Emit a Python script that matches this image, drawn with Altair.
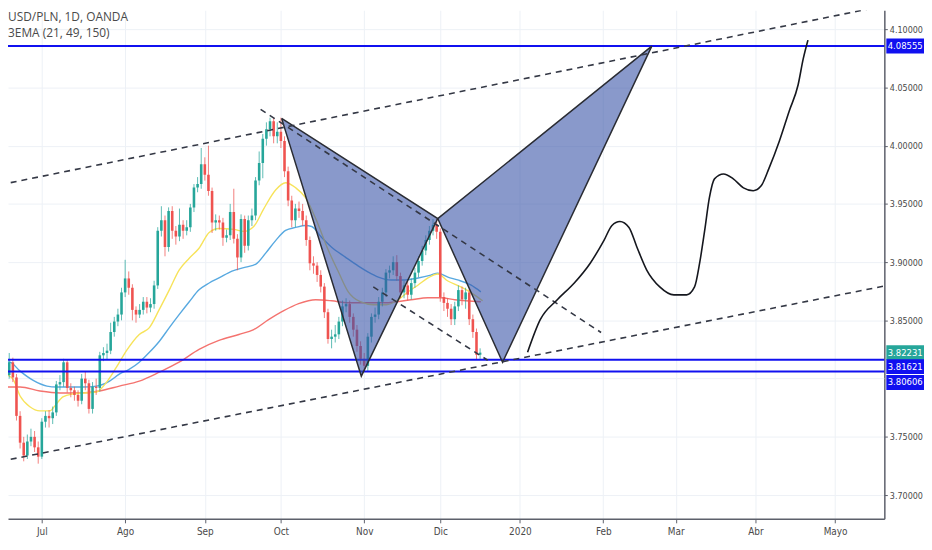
import altair as alt
import pandas as pd

FONT = "Liberation Sans Narrow, DejaVu Sans Condensed, Roboto, sans-serif"
TITLE_FONT = "Open Sans, Roboto, sans-serif"
GREEN = "#26a69a"
RED = "#ef5350"
LEVEL_BLUE = "#1010f0"

# ---------------- data ----------------
TITLE_LINES = ["USD/PLN, 1D, OANDA", "3EMA (21, 49, 150)"]

# bar index 0 = 1 Jul 2019 (trading-day index)
START_INDEX = -11
FIRST_OPEN = 3.776
CLOSE = [
    3.800, 3.803, 3.814, 3.801, 3.768, 3.745, 3.734, 3.746, 3.750, 3.741, 3.733,
    3.763, 3.768, 3.766, 3.771, 3.795, 3.797, 3.814, 3.792, 3.790, 3.786, 3.781,
    3.800, 3.796, 3.774, 3.793, 3.792, 3.820, 3.822, 3.824, 3.840, 3.849,
    3.855, 3.874, 3.886, 3.878, 3.859, 3.855, 3.859, 3.866, 3.861, 3.864,
    3.880, 3.927, 3.936, 3.913, 3.944, 3.927, 3.922, 3.932, 3.927, 3.930,
    3.947, 3.964, 3.967, 3.984, 3.975, 3.961, 3.934, 3.936, 3.934, 3.921,
    3.923, 3.943, 3.920, 3.904, 3.937, 3.914, 3.936, 3.940, 3.970, 3.985,
    4.006, 4.014, 4.021, 4.008, 4.012, 4.004, 3.978, 3.953, 3.936, 3.946,
    3.944, 3.936, 3.919, 3.899, 3.897, 3.889, 3.879, 3.857, 3.834, 3.836,
    3.838, 3.849, 3.862, 3.864, 3.853, 3.842, 3.828, 3.817, 3.811, 3.836,
    3.853, 3.855, 3.866, 3.874, 3.891, 3.893, 3.900, 3.888, 3.874, 3.880,
    3.872, 3.882, 3.891, 3.901, 3.910, 3.919, 3.927, 3.932, 3.926, 3.870,
    3.865, 3.860, 3.851, 3.862, 3.876, 3.868, 3.874, 3.851, 3.840, 3.8205, 3.82231,
]
HIGH = [
    3.804, 3.808, 3.822, 3.818, 3.804, 3.772, 3.750, 3.752, 3.757, 3.755, 3.746,
    3.766, 3.772, 3.773, 3.776, 3.798, 3.803, 3.817, 3.816, 3.796, 3.793, 3.790,
    3.804, 3.806, 3.799, 3.797, 3.800, 3.823, 3.827, 3.830, 3.848, 3.853,
    3.860, 3.878, 3.902, 3.892, 3.881, 3.862, 3.864, 3.870, 3.870, 3.869,
    3.884, 3.930, 3.948, 3.940, 3.947, 3.948, 3.931, 3.946, 3.936, 3.936,
    3.950, 3.967, 3.973, 3.998, 3.990, 4.000, 3.964, 3.941, 3.940, 3.938,
    3.928, 3.950, 3.963, 3.924, 3.941, 3.940, 3.940, 3.946, 3.973, 3.995,
    4.010, 4.020, 4.024, 4.024, 4.020, 4.024, 4.008, 3.982, 3.957, 3.950,
    3.952, 3.950, 3.940, 3.922, 3.905, 3.900, 3.893, 3.882, 3.860, 3.842,
    3.846, 3.853, 3.867, 3.869, 3.867, 3.856, 3.846, 3.832, 3.822, 3.839,
    3.856, 3.861, 3.870, 3.878, 3.894, 3.897, 3.905, 3.906, 3.891, 3.884,
    3.885, 3.886, 3.895, 3.905, 3.914, 3.923, 3.931, 3.937, 3.937, 3.929,
    3.874, 3.869, 3.864, 3.866, 3.880, 3.879, 3.878, 3.877, 3.855, 3.843, 3.826,
]
LOW = [
    3.770, 3.795, 3.800, 3.797, 3.764, 3.740, 3.729, 3.731, 3.742, 3.737, 3.727,
    3.731, 3.758, 3.758, 3.761, 3.768, 3.790, 3.793, 3.788, 3.784, 3.781, 3.776,
    3.778, 3.790, 3.770, 3.770, 3.786, 3.789, 3.815, 3.816, 3.821, 3.836,
    3.845, 3.850, 3.870, 3.872, 3.850, 3.848, 3.852, 3.855, 3.856, 3.857,
    3.860, 3.877, 3.922, 3.905, 3.909, 3.920, 3.915, 3.918, 3.920, 3.923,
    3.926, 3.943, 3.960, 3.963, 3.970, 3.957, 3.925, 3.927, 3.928, 3.914,
    3.917, 3.919, 3.916, 3.893, 3.900, 3.908, 3.910, 3.931, 3.936, 3.966,
    3.972, 4.000, 4.008, 4.002, 4.002, 3.998, 3.973, 3.948, 3.930, 3.930,
    3.938, 3.931, 3.914, 3.893, 3.890, 3.883, 3.874, 3.852, 3.830, 3.826,
    3.831, 3.834, 3.845, 3.857, 3.848, 3.836, 3.823, 3.812, 3.806, 3.806,
    3.831, 3.848, 3.851, 3.862, 3.870, 3.886, 3.889, 3.884, 3.869, 3.869,
    3.867, 3.868, 3.878, 3.887, 3.897, 3.906, 3.915, 3.923, 3.920, 3.866,
    3.858, 3.853, 3.846, 3.846, 3.858, 3.863, 3.860, 3.846, 3.835, 3.816, 3.817,
]

EMA21_I = [-11.5, -8.0, -6.0, -3.3, -0.5, 2.2, 3.6, 5.8, 8.5, 15.1, 17.9, 20.6, 23.6, 26.9, 29.7,
           32.4, 35.2, 37.9, 40.7, 43.4, 46.2, 48.9, 53.0, 55.8, 58.5, 61.3, 64.6, 67.3, 70.1, 72.8,
           75.6, 79.1, 81.9, 84.6, 87.9, 91.5, 95.1, 98.4, 101.1, 103.9, 106.6, 109.3, 112.1, 115.7,
           119.0, 121.7]
EMA21_P = [3.8055, 3.7996, 3.7851, 3.7758, 3.7723, 3.7723, 3.7766, 3.7843, 3.7868, 3.7885, 3.7970,
           3.8098, 3.8251, 3.8379, 3.8438, 3.8592, 3.8762, 3.8932, 3.9034, 3.9119, 3.9255, 3.9289,
           3.9281, 3.9264, 3.9306, 3.9460, 3.9621, 3.9681, 3.9638, 3.9553, 3.9374, 3.9102, 3.8915,
           3.8745, 3.8660, 3.8634, 3.8634, 3.8677, 3.8745, 3.8804, 3.8864, 3.8898, 3.8838, 3.8787,
           3.8728, 3.8668]
EMA49_I = [-11.5, -8.8, -6.0, -2.5, 1.4, 4.1, 11.3, 15.1, 18.7, 21.4, 24.2, 26.9, 29.7, 32.4, 35.2,
           37.9, 40.7, 43.4, 46.2, 48.9, 52.5, 56.3, 59.1, 61.8, 64.6, 67.3, 70.1, 72.8, 74.5, 77.2,
           80.0, 83.8, 87.4, 90.1, 92.9, 96.4, 100.3, 103.9, 107.4, 109.3, 112.1, 114.8, 118.4, 121.2]
EMA49_P = [3.8149, 3.8141, 3.8064, 3.7987, 3.7936, 3.7928, 3.7928, 3.7936, 3.7979, 3.8038, 3.8081,
           3.8141, 3.8226, 3.8319, 3.8438, 3.8549, 3.8660, 3.8762, 3.8821, 3.8864, 3.8923, 3.8957,
           3.8983, 3.9077, 3.9187, 3.9272, 3.9298, 3.9315, 3.9306, 3.9213, 3.9128, 3.9043, 3.8966,
           3.8915, 3.8872, 3.8847, 3.8847, 3.8864, 3.8889, 3.8906, 3.8872, 3.8847, 3.8804, 3.8745]
EMA150_I = [-11.5, -6.0, -0.5, 5.0, 10.4, 15.9, 21.4, 26.9, 32.4, 37.9, 43.4, 48.9, 54.4, 58.5,
            62.6, 66.8, 70.9, 75.6, 80.0, 84.6, 88.2, 94.8, 101.9, 106.6, 110.2, 114.0, 121.2]
EMA150_P = [3.7928, 3.7928, 3.7894, 3.7877, 3.7877, 3.7894, 3.7936, 3.7979, 3.8055, 3.8141, 3.8251,
            3.8328, 3.8379, 3.8421, 3.8506, 3.8583, 3.8643, 3.8677, 3.8668, 3.8651, 3.8651, 3.8651,
            3.8677, 3.8694, 3.8694, 3.8677, 3.8660]

LEVELS = [4.08555, 3.81621, 3.80606]

# harmonic pattern points X, A, B, C, D
PATTERN_I = [66.2, 88.2, 109.3, 127.2, 168.4]
PATTERN_P = [4.0234, 3.8021, 3.9374, 3.8140, 4.0855]

# dashed trend lines (start / end)
DASH_I0 = [-11.54, -11.54, 60.4, 91.5]
DASH_P0 = [3.9664, 3.7289, 4.0311, 3.8787]
DASH_I1 = [234.07, 234.07, 154.4, 123.1]
DASH_P1 = [4.1210, 3.8804, 3.8396, 3.8158]

# hand-drawn projection
PROJ_I = [134.1, 137.6, 142.3, 147.0, 151.4, 155.2, 157.4, 159.6, 162.1, 164.3, 167.0, 170.6,
          174.5, 178.0, 180.2, 181.6, 183.0, 184.3, 185.7, 188.2, 190.9, 193.7, 196.4, 198.6,
          200.8, 203.6, 206.3, 208.8, 210.2, 211.5]
PROJ_P = [3.8226, 3.8506, 3.8677, 3.8821, 3.8991, 3.9187, 3.9315, 3.9349, 3.9298, 3.9128, 3.8932,
          3.8787, 3.8719, 3.8719, 3.8787, 3.8991, 3.9272, 3.9553, 3.9715, 3.9757, 3.9715, 3.9638,
          3.9613, 3.9655, 3.9809, 4.0038, 4.0294, 4.0523, 4.0745, 4.0906]

MONTH_IDX = [0, 23, 45, 66, 89, 110, 132, 155, 175, 197, 219]
MONTH_LABELS = ["Jul", "Ago", "Sep", "Oct", "Nov", "Dic", "2020", "Feb", "Mar", "Abr", "Mayo"]
PRICE_TICKS = [3.70, 3.75, 3.85, 3.90, 3.95, 4.00, 4.05, 4.10]
HIDDEN_GRID = [3.80]   # grid line whose label sits behind the price tags

TAG_PRICES = [4.08555, 3.82231, 3.81621, 3.80606]
TAG_COLORS = [LEVEL_BLUE, GREEN, LEVEL_BLUE, LEVEL_BLUE]
TAG_SHIFT = [0, 0, 7, 11]

# ---------------- scales & axes ----------------
XS = alt.Scale(domain=[-9.34, 232.6], nice=False, zero=False, padding=0)
YS = alt.Scale(domain=[3.6796, 4.1162], nice=False, zero=False, padding=0)

label_expr = "".join(f"datum.value == {v} ? '{t}' : " for v, t in zip(MONTH_IDX, MONTH_LABELS)) + "''"

GRID = "#edf1f6"
X_AXIS = alt.Axis(values=MONTH_IDX, labelExpr=label_expr, grid=True, gridColor=GRID,
                  domainColor="#5d606b", domainWidth=1.5, tickColor="#5d606b", tickSize=4,
                  labelColor="#4a4a4a", labelFontSize=10, labelFont=FONT, labelPadding=4,
                  labelOverlap=False, labelFlush=False, title=None)
Y_AXIS = alt.Axis(orient="right", values=PRICE_TICKS, format=".5f", grid=True, gridColor=GRID,
                  domainColor="#5d606b", domainWidth=1.5, tickColor="#5d606b", tickSize=3,
                  labelColor="#4a4a4a", labelFontSize=9, labelFont=FONT, labelPadding=2,
                  labelOverlap=False, labelFlush=False, title=None)


def X(field):
    return alt.X(field, type="quantitative", scale=XS, axis=X_AXIS)


def Y(field):
    return alt.Y(field, type="quantitative", scale=YS, axis=Y_AXIS)


# ---------------- tables ----------------
rows = []
prev = FIRST_OPEN
for k, (c, h, l) in enumerate(zip(CLOSE, HIGH, LOW)):
    rows.append({"i": START_INDEX + k, "o": prev, "c": c, "h": h, "l": l,
                 "d": "up" if c >= prev else "down"})
    prev = c
candles = pd.DataFrame(rows)

CANDLE_COLOR = alt.Color("d:N", scale=alt.Scale(domain=["up", "down"], range=[GREEN, RED]), legend=None)

extra_grid = alt.Chart(pd.DataFrame({"p": HIDDEN_GRID})).mark_rule(color=GRID, strokeWidth=1).encode(y=Y("p"))


def ema_layer(ii, pp, color):
    return alt.Chart(pd.DataFrame({"i": ii, "p": pp})).mark_line(
        color=color, strokeWidth=1.4, interpolate="monotone", clip=True
    ).encode(x=X("i"), y=Y("p"))


ema21 = ema_layer(EMA21_I, EMA21_P, "#f7e35a")
ema49 = ema_layer(EMA49_I, EMA49_P, "#58a9e0")
ema150 = ema_layer(EMA150_I, EMA150_P, "#f4736f")

wicks = alt.Chart(candles).mark_rule(strokeWidth=1, opacity=0.75, clip=True).encode(
    x=X("i"), y=Y("l"), y2="h", color=CANDLE_COLOR)
bodies = alt.Chart(candles).mark_bar(size=2.6, clip=True).encode(
    x=X("i"), y=Y("o"), y2="c", color=CANDLE_COLOR)

hlines = alt.Chart(pd.DataFrame({"p": LEVELS})).mark_rule(color=LEVEL_BLUE, strokeWidth=2).encode(y=Y("p"))

tri_rows = []
for t, verts in enumerate([(0, 1, 2, 0), (2, 3, 4, 2)]):
    for k, v in enumerate(verts):
        tri_rows.append({"t": t, "k": k, "i": PATTERN_I[v], "p": PATTERN_P[v]})
triangles = alt.Chart(pd.DataFrame(tri_rows)).mark_line(
    fill="#3a55a8", fillOpacity=0.6, stroke="#2a2c33", strokeWidth=1.5, strokeJoin="miter"
).encode(x=X("i"), y=Y("p"), detail="t:N", order="k:Q")

dash_rows = []
for n in range(len(DASH_I0)):
    dash_rows.append({"id": n, "i": DASH_I0[n], "p": DASH_P0[n]})
    dash_rows.append({"id": n, "i": DASH_I1[n], "p": DASH_P1[n]})
dashes = alt.Chart(pd.DataFrame(dash_rows)).mark_line(
    color="#343845", strokeWidth=1.6, strokeDash=[6, 5], clip=True
).encode(x=X("i"), y=Y("p"), detail="id:N")

projection = alt.Chart(pd.DataFrame({"i": PROJ_I, "p": PROJ_P})).mark_line(
    color="#15171e", strokeWidth=1.6, interpolate="monotone"
).encode(x=X("i"), y=Y("p"))

TAG_X = 905  # centre of the price-tag boxes, right of the plot
tag_layers = []
for price, color, shift in zip(TAG_PRICES, TAG_COLORS, TAG_SHIFT):
    d = pd.DataFrame({"p": [price]})
    tag_layers.append(alt.Chart(d).mark_tick(orient="vertical", thickness=38, size=15, color=color,
                                             opacity=1, yOffset=shift)
                      .encode(x=alt.value(TAG_X), y=Y("p")))
    tag_layers.append(alt.Chart(d).mark_text(color="white", fontSize=9.5, font=FONT, align="center",
                                             baseline="middle", yOffset=shift)
                      .encode(x=alt.value(TAG_X), y=Y("p"), text=alt.Text("p:Q", format=".5f")))

titles = [
    alt.Chart(pd.DataFrame({"t": [TITLE_LINES[0]]})).mark_text(
        align="left", baseline="middle", fontSize=12, font=TITLE_FONT, color="#4a4a4a", fontWeight=500
    ).encode(x=alt.value(0), y=alt.value(7), text="t:N"),
    alt.Chart(pd.DataFrame({"t": [TITLE_LINES[1]]})).mark_text(
        align="left", baseline="middle", fontSize=12, font=TITLE_FONT, color="#4a4a4a"
    ).encode(x=alt.value(0), y=alt.value(23), text="t:N"),
]

chart = alt.layer(
    extra_grid, ema150, ema49, ema21, wicks, bodies, hlines, triangles, dashes, projection,
    *tag_layers, *titles
).properties(
    width=884, height=513,
    autosize=alt.AutoSizeParams(type="none"),
    padding={"left": 0, "top": 0, "right": 40, "bottom": 18},
    background="white",
).configure_view(stroke=None)

chart.save("out.html", embed_options={"renderer": "svg", "actions": False})
